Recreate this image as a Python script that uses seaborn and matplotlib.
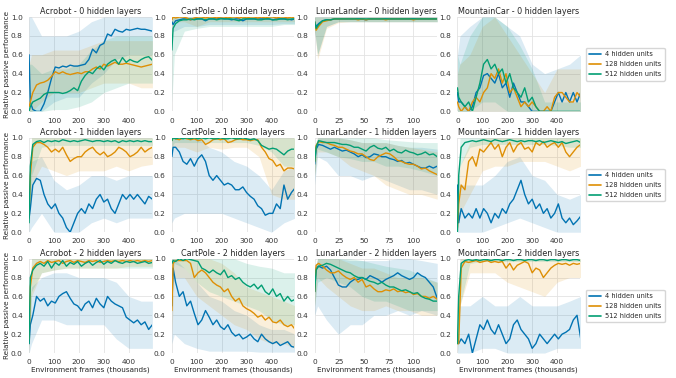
import numpy as np
import pandas as pd
import matplotlib
matplotlib.use("Agg")
import matplotlib.pyplot as plt
import seaborn as sns

# x positions (thousands of frames)
frames = [0, 5, 15, 30, 45, 60, 75, 90, 105, 120, 135, 150, 165, 180, 195, 210, 225, 240,
          255, 270, 285, 300, 315, 330, 345, 360, 375, 390, 405, 420, 435, 450, 465, 480, 495]
frames_ll = [0, 1.5, 4, 8, 12, 16, 20, 24, 28, 32, 36, 40, 44, 48, 52, 56, 60, 64, 68, 72,
             76, 80, 84, 88, 92, 96, 100, 104, 108, 112, 116, 120, 124]
band_x = [0, 10, 50, 100, 150, 200, 250, 300, 350, 400, 450, 495]
band_x_ll = [0, 3, 12, 24, 36, 48, 60, 72, 84, 96, 108, 124]

units = ["4 hidden units", "128 hidden units", "512 hidden units"]
envs = ["Acrobot", "CartPole", "LunarLander", "MountainCar"]
layers = [0, 1, 2]

# ---- Acrobot, 0 hidden layers
acro0_u4 = [0.6, 0.1, 0.02, 0.0, 0.0, 0.08, 0.2, 0.35, 0.47, 0.46, 0.48, 0.47, 0.49, 0.48, 0.48, 0.49, 0.5, 0.55,
            0.66, 0.62, 0.7, 0.72, 0.82, 0.8, 0.87, 0.85, 0.84, 0.87, 0.86, 0.87, 0.88, 0.87, 0.87, 0.86, 0.85]
acro0_u128 = [0.05, 0.1, 0.2, 0.28, 0.3, 0.31, 0.33, 0.37, 0.42, 0.4, 0.42, 0.4, 0.39, 0.4, 0.41, 0.4, 0.42, 0.42,
              0.45, 0.47, 0.45, 0.5, 0.48, 0.5, 0.52, 0.5, 0.5, 0.51, 0.5, 0.49, 0.48, 0.47, 0.48, 0.49, 0.5]
acro0_u512 = [0.0, 0.05, 0.1, 0.12, 0.14, 0.18, 0.2, 0.2, 0.2, 0.2, 0.19, 0.2, 0.22, 0.25, 0.22, 0.32, 0.38, 0.42,
              0.4, 0.45, 0.48, 0.44, 0.5, 0.53, 0.55, 0.5, 0.57, 0.52, 0.55, 0.53, 0.52, 0.55, 0.57, 0.58, 0.54]
acro0_u4_lo = [0, 0, 0, 0.1, 0.15, 0.15, 0.3, 0.4, 0.55, 0.6, 0.6, 0.6]
acro0_u4_hi = [1, 1, 0.8, 0.8, 0.8, 0.85, 0.95, 1, 1, 1, 1, 1]
acro0_u128_lo = [0, 0, 0.1, 0.2, 0.2, 0.2, 0.25, 0.3, 0.3, 0.3, 0.25, 0.25]
acro0_u128_hi = [0.5, 0.6, 0.6, 0.65, 0.65, 0.65, 0.7, 0.75, 0.75, 0.75, 0.75, 0.75]
acro0_u512_lo = [0, 0, 0, 0.02, 0.02, 0.05, 0.1, 0.2, 0.25, 0.3, 0.3, 0.3]
acro0_u512_hi = [0.5, 0.5, 0.4, 0.45, 0.45, 0.5, 0.65, 0.75, 0.8, 0.8, 0.8, 0.8]

# ---- CartPole, 0 hidden layers
cart0_u4 = [0.95, 0.92, 0.96, 0.97, 0.98, 0.98, 0.97, 0.98, 0.98, 0.98, 0.96, 0.98, 0.98, 0.98, 0.99, 0.98, 0.98, 0.97,
            0.98, 0.98, 0.96, 0.98, 0.98, 0.98, 0.98, 0.98, 0.98, 0.98, 0.97, 0.98, 0.98, 0.98, 0.98, 0.97, 0.98]
cart0_u128 = [0.97, 1.0, 0.99, 1.0, 1.0, 0.99, 0.97, 0.99, 1.0, 1.0, 0.99, 1.0, 1.0, 0.99, 1.0, 1.0, 0.99, 1.0,
              1.0, 0.99, 1.0, 0.99, 1.0, 1.0, 0.99, 1.0, 0.99, 1.0, 1.0, 0.99, 1.0, 1.0, 0.99, 1.0, 0.99]
cart0_u512 = [0.65, 0.88, 0.93, 0.96, 0.97, 0.97, 0.98, 0.97, 0.98, 0.98, 0.97, 0.98, 0.98, 0.97, 0.98, 0.98, 0.98, 0.98,
              0.97, 0.96, 0.98, 0.98, 0.98, 0.98, 0.97, 0.97, 0.98, 0.98, 0.97, 0.97, 0.98, 0.98, 0.97, 0.98, 0.98]
cart0_u4_lo = [0.85, 0.85, 0.9, 0.9, 0.92, 0.92, 0.92, 0.92, 0.92, 0.92, 0.93, 0.93]
cart0_u4_hi = [1, 1, 1, 1, 1, 1, 1, 1, 1, 1, 1, 1]
cart0_u128_lo = [0.8, 0.95, 0.95, 0.9, 0.95, 0.95, 0.95, 0.95, 0.95, 0.95, 0.95, 0.95]
cart0_u128_hi = [1, 1, 1, 1, 1, 1, 1, 1, 1, 1, 1, 1]
cart0_u512_lo = [0.1, 0.6, 0.85, 0.88, 0.9, 0.9, 0.9, 0.9, 0.9, 0.9, 0.92, 0.92]
cart0_u512_hi = [1, 1, 1, 1, 1, 1, 1, 1, 1, 1, 1, 1]

# ---- LunarLander, 0 hidden layers
lunar0_u4 = [0.95, 0.9, 0.93, 0.96, 0.97, 0.97, 0.98, 0.98, 0.98, 0.98, 0.98, 0.98, 0.98, 0.98, 0.97, 0.98, 0.98,
             0.98, 0.98, 0.98, 0.98, 0.98, 0.98, 0.98, 0.98, 0.98, 0.98, 0.98, 0.98, 0.98, 0.98, 0.98, 0.98]
lunar0_u128 = [0.95, 0.86, 0.9, 0.95, 0.96, 0.97, 0.98, 0.98, 0.98, 0.98, 0.98, 0.98, 0.97, 0.98, 0.97, 0.98, 0.98,
               0.98, 0.98, 0.97, 0.98, 0.98, 0.98, 0.98, 0.98, 0.98, 0.97, 0.98, 0.98, 0.98, 0.98, 0.98, 0.98]
lunar0_u512 = [0.95, 0.88, 0.92, 0.96, 0.97, 0.97, 0.98, 0.98, 0.98, 0.98, 0.98, 0.98, 0.98, 0.98, 0.98, 0.98, 0.98,
               0.98, 0.98, 0.98, 0.98, 0.98, 0.98, 0.98, 0.98, 0.98, 0.98, 0.98, 0.98, 0.98, 0.98, 0.98, 0.98]
lunar0_u4_lo = [0.85, 0.6, 0.9, 0.95, 0.95, 0.95, 0.95, 0.95, 0.95, 0.95, 0.95, 0.95]
lunar0_u4_hi = [1, 1, 1, 1, 1, 1, 1, 1, 1, 1, 1, 1]
lunar0_u128_lo = [0.85, 0.55, 0.88, 0.94, 0.95, 0.95, 0.95, 0.95, 0.95, 0.95, 0.95, 0.95]
lunar0_u128_hi = [1, 1, 1, 1, 1, 1, 1, 1, 1, 1, 1, 1]
lunar0_u512_lo = [0.85, 0.6, 0.9, 0.95, 0.95, 0.95, 0.95, 0.95, 0.95, 0.95, 0.95, 0.95]
lunar0_u512_hi = [1, 1, 1, 1, 1, 1, 1, 1, 1, 1, 1, 1]

# ---- MountainCar, 0 hidden layers
mount0_u4 = [0.2, 0.1, 0.1, 0.05, 0.0, 0.05, 0.2, 0.25, 0.38, 0.4, 0.35, 0.3, 0.4, 0.25, 0.3, 0.15, 0.3, 0.2,
             0.1, 0.1, 0.05, 0.0, 0.0, 0.0, 0.0, 0.0, 0.0, 0.1, 0.2, 0.1, 0.2, 0.1, 0.2, 0.1, 0.2]
mount0_u128 = [0.1, 0.05, 0.0, 0.05, 0.0, 0.1, 0.15, 0.1, 0.2, 0.25, 0.4, 0.35, 0.45, 0.3, 0.4, 0.2, 0.25, 0.15,
               0.05, 0.1, 0.05, 0.1, 0.05, 0.0, 0.0, 0.05, 0.0, 0.15, 0.2, 0.2, 0.15, 0.1, 0.1, 0.2, 0.15]
mount0_u512 = [0.25, 0.15, 0.1, 0.05, 0.1, 0.0, 0.15, 0.3, 0.5, 0.55, 0.45, 0.5, 0.4, 0.45, 0.3, 0.4, 0.25, 0.2,
               0.15, 0.25, 0.1, 0.15, 0.05, 0.0, 0.0, 0.0, 0.0, 0.0, 0.0, 0.0, 0.0, 0.0, 0.0, 0.0, 0.0]
mount0_u4_lo = [0, 0, 0, 0, 0, 0, 0, 0, 0, 0, 0, 0]
mount0_u4_hi = [0.6, 0.8, 0.9, 1, 1, 0.9, 0.8, 0.5, 0.4, 0.45, 0.5, 0.6]
mount0_u128_lo = [0, 0, 0, 0, 0, 0, 0, 0, 0, 0, 0, 0]
mount0_u128_hi = [0.4, 0.5, 0.6, 0.9, 1, 0.8, 0.6, 0.4, 0.2, 0.45, 0.45, 0.45]
mount0_u512_lo = [0, 0, 0, 0.1, 0.1, 0, 0, 0, 0, 0, 0, 0]
mount0_u512_hi = [0.6, 0.5, 0.8, 1, 1, 0.9, 0.7, 0.45, 0.1, 0.1, 0.1, 0.1]

# ---- Acrobot, 1 hidden layer
acro1_u4 = [0.15, 0.25, 0.5, 0.57, 0.55, 0.4, 0.3, 0.25, 0.3, 0.2, 0.15, 0.05, 0.0, 0.1, 0.2, 0.25, 0.2, 0.3,
            0.25, 0.35, 0.4, 0.32, 0.35, 0.25, 0.2, 0.3, 0.4, 0.35, 0.4, 0.35, 0.4, 0.35, 0.3, 0.38, 0.35]
acro1_u128 = [0.2, 0.6, 0.9, 0.95, 0.95, 0.93, 0.9, 0.85, 0.88, 0.85, 0.9, 0.82, 0.75, 0.78, 0.8, 0.8, 0.85, 0.88,
              0.9, 0.85, 0.82, 0.85, 0.8, 0.82, 0.85, 0.9, 0.88, 0.85, 0.8, 0.82, 0.85, 0.9, 0.85, 0.88, 0.9]
acro1_u512 = [0.1, 0.7, 0.93, 0.96, 0.97, 0.95, 0.97, 0.96, 0.97, 0.96, 0.98, 0.97, 0.96, 0.97, 0.96, 0.97, 0.98, 0.97,
              0.96, 0.97, 0.97, 0.96, 0.97, 0.96, 0.97, 0.95, 0.97, 0.96, 0.97, 0.96, 0.97, 0.96, 0.97, 0.96, 0.96]
acro1_u4_lo = [0, 0.05, 0.2, 0, 0, 0, 0.1, 0.15, 0.1, 0.15, 0.15, 0.15]
acro1_u4_hi = [0.5, 0.75, 0.8, 0.55, 0.45, 0.5, 0.6, 0.6, 0.55, 0.6, 0.6, 0.6]
acro1_u128_lo = [0.1, 0.5, 0.7, 0.65, 0.6, 0.65, 0.65, 0.65, 0.7, 0.65, 0.7, 0.72]
acro1_u128_hi = [0.4, 1, 1, 1, 1, 1, 1, 1, 1, 1, 1, 1]
acro1_u512_lo = [0, 0.6, 0.9, 0.92, 0.92, 0.92, 0.92, 0.92, 0.92, 0.92, 0.92, 0.92]
acro1_u512_hi = [0.4, 1, 1, 1, 1, 1, 1, 1, 1, 1, 1, 1]

# ---- CartPole, 1 hidden layer
cart1_u4 = [0.8, 0.9, 0.9, 0.85, 0.75, 0.72, 0.78, 0.7, 0.78, 0.82, 0.75, 0.6, 0.55, 0.6, 0.55, 0.5, 0.52, 0.5,
            0.45, 0.45, 0.48, 0.42, 0.38, 0.35, 0.28, 0.25, 0.18, 0.2, 0.2, 0.3, 0.25, 0.5, 0.35, 0.42, 0.47]
cart1_u128 = [0.97, 1.0, 0.99, 0.98, 1.0, 0.99, 0.98, 0.99, 0.97, 0.98, 0.93, 0.95, 0.98, 0.99, 0.98, 0.99, 0.95, 0.96,
              0.98, 0.99, 0.98, 0.98, 0.97, 0.98, 0.98, 0.9, 0.85, 0.78, 0.76, 0.7, 0.72, 0.65, 0.68, 0.68, 0.67]
cart1_u512 = [0.97, 1.0, 0.99, 1.0, 0.99, 1.0, 0.99, 1.0, 0.99, 1.0, 0.99, 1.0, 0.99, 0.99, 1.0, 0.99, 0.99, 1.0,
              0.99, 0.99, 1.0, 0.99, 0.98, 0.99, 0.97, 0.92, 0.9, 0.88, 0.89, 0.88, 0.85, 0.82, 0.86, 0.88, 0.88]
cart1_u4_lo = [0.1, 0.15, 0.2, 0.2, 0.2, 0.2, 0.15, 0.1, 0.05, 0.0, 0.1, 0.15]
cart1_u4_hi = [1, 1, 1, 1, 0.9, 0.85, 0.75, 0.7, 0.6, 0.45, 0.65, 0.7]
cart1_u128_lo = [0.85, 0.9, 0.9, 0.85, 0.9, 0.88, 0.9, 0.9, 0.8, 0.4, 0.35, 0.35]
cart1_u128_hi = [1, 1, 1, 1, 1, 1, 1, 1, 1, 1, 1, 1]
cart1_u512_lo = [0.9, 0.95, 0.95, 0.95, 0.95, 0.95, 0.95, 0.95, 0.92, 0.85, 0.7, 0.7]
cart1_u512_hi = [1, 1, 1, 1, 1, 1, 1, 1, 1, 1, 1, 1]

# ---- LunarLander, 1 hidden layer
lunar1_u4 = [0.72, 0.88, 0.93, 0.92, 0.9, 0.88, 0.9, 0.88, 0.86, 0.87, 0.85, 0.83, 0.8, 0.82, 0.79, 0.8, 0.83,
             0.82, 0.8, 0.8, 0.78, 0.77, 0.75, 0.76, 0.73, 0.74, 0.72, 0.7, 0.68, 0.68, 0.7, 0.68, 0.7]
lunar1_u128 = [0.75, 0.92, 0.96, 0.95, 0.95, 0.93, 0.92, 0.9, 0.9, 0.88, 0.86, 0.85, 0.83, 0.83, 0.8, 0.77, 0.76,
               0.8, 0.82, 0.84, 0.83, 0.8, 0.76, 0.75, 0.73, 0.72, 0.72, 0.7, 0.67, 0.68, 0.65, 0.63, 0.61]
lunar1_u512 = [0.75, 0.9, 0.97, 0.96, 0.95, 0.95, 0.95, 0.94, 0.93, 0.93, 0.92, 0.9, 0.9, 0.88, 0.86, 0.9, 0.92,
               0.89, 0.88, 0.9, 0.86, 0.88, 0.85, 0.84, 0.87, 0.85, 0.84, 0.82, 0.83, 0.85, 0.82, 0.83, 0.8]
lunar1_u4_lo = [0.5, 0.8, 0.75, 0.6, 0.6, 0.55, 0.6, 0.55, 0.5, 0.45, 0.45, 0.4]
lunar1_u4_hi = [0.9, 1, 1, 1, 0.98, 0.95, 0.95, 0.95, 0.92, 0.9, 0.9, 0.88]
lunar1_u128_lo = [0.6, 0.85, 0.85, 0.8, 0.7, 0.65, 0.6, 0.5, 0.45, 0.4, 0.4, 0.35]
lunar1_u128_hi = [0.9, 1, 1, 1, 0.98, 0.95, 0.95, 0.95, 0.92, 0.9, 0.88, 0.85]
lunar1_u512_lo = [0.6, 0.88, 0.85, 0.8, 0.78, 0.75, 0.75, 0.7, 0.7, 0.68, 0.65, 0.6]
lunar1_u512_hi = [0.9, 1, 1, 1, 1, 1, 1, 0.98, 0.97, 0.96, 0.95, 0.95]

# ---- MountainCar, 1 hidden layer
mount1_u4 = [0.5, 0.1, 0.25, 0.15, 0.2, 0.15, 0.25, 0.15, 0.25, 0.2, 0.1, 0.2, 0.15, 0.25, 0.2, 0.3, 0.35, 0.45,
             0.55, 0.4, 0.3, 0.35, 0.25, 0.3, 0.2, 0.25, 0.15, 0.2, 0.3, 0.15, 0.1, 0.15, 0.08, 0.12, 0.17]
mount1_u128 = [0.05, 0.3, 0.5, 0.45, 0.75, 0.8, 0.7, 0.88, 0.85, 0.9, 0.95, 0.88, 0.93, 0.8, 0.9, 0.95, 0.85, 0.92,
               0.95, 0.88, 0.9, 0.85, 0.95, 0.92, 0.96, 0.9, 0.93, 0.95, 0.9, 0.95, 0.85, 0.8, 0.85, 0.9, 0.93]
mount1_u512 = [0.0, 0.6, 0.9, 0.95, 0.96, 0.97, 0.96, 0.97, 0.98, 0.97, 0.96, 0.98, 0.97, 0.96, 0.97, 0.98, 0.97, 0.96,
               0.97, 0.96, 0.97, 0.97, 0.96, 0.97, 0.95, 0.96, 0.97, 0.96, 0.95, 0.96, 0.94, 0.95, 0.96, 0.97, 0.95]
mount1_u4_lo = [0, 0, 0, 0, 0.05, 0.1, 0.15, 0.1, 0.05, 0.0, 0.0, 0.0]
mount1_u4_hi = [0.7, 0.5, 0.5, 0.5, 0.6, 0.75, 0.8, 0.6, 0.55, 0.4, 0.35, 0.4]
mount1_u128_lo = [0, 0.2, 0.4, 0.65, 0.7, 0.7, 0.75, 0.75, 0.75, 0.7, 0.65, 0.7]
mount1_u128_hi = [0.2, 0.7, 0.95, 1, 1, 1, 1, 1, 1, 1, 1, 1]
mount1_u512_lo = [0, 0.7, 0.9, 0.93, 0.93, 0.93, 0.93, 0.93, 0.93, 0.92, 0.9, 0.9]
mount1_u512_hi = [0.2, 1, 1, 1, 1, 1, 1, 1, 1, 1, 1, 1]

# ---- Acrobot, 2 hidden layers
acro2_u4 = [0.1, 0.3, 0.4, 0.6, 0.55, 0.58, 0.5, 0.55, 0.53, 0.6, 0.63, 0.65, 0.58, 0.52, 0.5, 0.45, 0.52, 0.55,
            0.48, 0.58, 0.52, 0.48, 0.6, 0.55, 0.52, 0.5, 0.48, 0.38, 0.35, 0.32, 0.35, 0.3, 0.33, 0.25, 0.3]
acro2_u128 = [0.15, 0.7, 0.9, 0.95, 0.97, 0.95, 0.98, 0.96, 0.97, 0.98, 0.95, 0.97, 0.98, 0.96, 0.98, 0.97, 0.96, 0.98,
              0.97, 0.98, 0.96, 0.97, 0.98, 0.97, 0.98, 0.97, 0.98, 0.97, 0.98, 0.97, 0.98, 0.97, 0.98, 0.97, 0.98]
acro2_u512 = [0.1, 0.8, 0.88, 0.93, 0.95, 0.92, 0.97, 0.9, 0.96, 0.93, 0.98, 0.92, 0.96, 0.94, 0.97, 0.92, 0.95, 0.97,
              0.93, 0.96, 0.98, 0.94, 0.97, 0.95, 0.98, 0.96, 0.95, 0.97, 0.96, 0.97, 0.95, 0.96, 0.97, 0.95, 0.96]
acro2_u4_lo = [0, 0.1, 0.35, 0.35, 0.3, 0.3, 0.3, 0.3, 0.15, 0.05, 0.05, 0.05]
acro2_u4_hi = [0.4, 0.7, 0.8, 0.85, 0.85, 0.8, 0.8, 0.8, 0.75, 0.6, 0.55, 0.55]
acro2_u128_lo = [0, 0.6, 0.85, 0.88, 0.9, 0.9, 0.9, 0.9, 0.9, 0.92, 0.92, 0.92]
acro2_u128_hi = [0.4, 1, 1, 1, 1, 1, 1, 1, 1, 1, 1, 1]
acro2_u512_lo = [0, 0.65, 0.85, 0.88, 0.9, 0.9, 0.9, 0.9, 0.9, 0.9, 0.9, 0.9]
acro2_u512_hi = [0.4, 1, 1, 1, 1, 1, 1, 1, 1, 1, 1, 1]

# ---- CartPole, 2 hidden layers
cart2_u4 = [0.5, 0.9, 0.75, 0.6, 0.65, 0.5, 0.55, 0.42, 0.3, 0.35, 0.45, 0.38, 0.3, 0.35, 0.28, 0.25, 0.3, 0.22,
            0.18, 0.2, 0.15, 0.17, 0.2, 0.15, 0.12, 0.2, 0.15, 0.12, 0.1, 0.12, 0.08, 0.1, 0.12, 0.07, 0.06]
cart2_u128 = [0.45, 0.95, 0.98, 0.98, 0.98, 0.98, 0.95, 0.8, 0.85, 0.88, 0.85, 0.8, 0.75, 0.72, 0.7, 0.65, 0.68, 0.6,
              0.55, 0.58, 0.5, 0.47, 0.45, 0.42, 0.38, 0.4, 0.35, 0.38, 0.33, 0.32, 0.35, 0.3, 0.28, 0.3, 0.25]
cart2_u512 = [0.95, 0.98, 0.97, 1.0, 0.98, 1.0, 0.99, 0.98, 0.97, 0.9, 0.88, 0.85, 0.88, 0.85, 0.83, 0.88, 0.8, 0.82,
              0.78, 0.8, 0.75, 0.72, 0.7, 0.73, 0.68, 0.72, 0.65, 0.62, 0.68, 0.6, 0.63, 0.55, 0.6, 0.55, 0.57]
cart2_u4_lo = [0.1, 0.2, 0.1, 0.05, 0.02, 0.02, 0.02, 0.02, 0.01, 0.01, 0.01, 0.01]
cart2_u4_hi = [1, 1, 0.9, 0.75, 0.6, 0.55, 0.45, 0.4, 0.3, 0.25, 0.25, 0.2]
cart2_u128_lo = [0.2, 0.8, 0.8, 0.6, 0.5, 0.4, 0.3, 0.25, 0.15, 0.1, 0.1, 0.05]
cart2_u128_hi = [1, 1, 1, 1, 1, 0.95, 0.85, 0.7, 0.65, 0.6, 0.55, 0.5]
cart2_u512_lo = [0.8, 0.95, 0.9, 0.75, 0.65, 0.6, 0.55, 0.5, 0.45, 0.35, 0.3, 0.3]
cart2_u512_hi = [1, 1, 1, 1, 1, 1, 1, 0.95, 0.92, 0.9, 0.85, 0.85]

# ---- LunarLander, 2 hidden layers
lunar2_u4 = [0.65, 0.9, 0.92, 0.9, 0.92, 0.88, 0.8, 0.72, 0.7, 0.7, 0.75, 0.78, 0.78, 0.8, 0.78, 0.82, 0.8,
             0.78, 0.75, 0.78, 0.8, 0.82, 0.85, 0.82, 0.8, 0.78, 0.8, 0.85, 0.82, 0.8, 0.75, 0.7, 0.58]
lunar2_u128 = [0.65, 0.93, 0.95, 0.92, 0.88, 0.85, 0.85, 0.87, 0.83, 0.8, 0.78, 0.8, 0.75, 0.78, 0.7, 0.72, 0.68,
               0.65, 0.65, 0.67, 0.66, 0.68, 0.65, 0.66, 0.64, 0.65, 0.62, 0.63, 0.6, 0.6, 0.58, 0.6, 0.57]
lunar2_u512 = [0.65, 0.88, 0.92, 0.93, 0.95, 0.94, 0.92, 0.9, 0.88, 0.86, 0.85, 0.82, 0.8, 0.8, 0.78, 0.76, 0.75,
               0.73, 0.75, 0.72, 0.7, 0.7, 0.68, 0.66, 0.67, 0.65, 0.63, 0.64, 0.6, 0.58, 0.57, 0.55, 0.55]
lunar2_u4_lo = [0.4, 0.5, 0.35, 0.2, 0.3, 0.3, 0.4, 0.4, 0.45, 0.4, 0.45, 0.4]
lunar2_u4_hi = [0.9, 1, 1, 1, 0.98, 0.98, 0.98, 0.98, 1, 1, 0.98, 0.95]
lunar2_u128_lo = [0.5, 0.8, 0.7, 0.6, 0.5, 0.45, 0.45, 0.5, 0.45, 0.45, 0.4, 0.4]
lunar2_u128_hi = [0.85, 1, 1, 1, 0.95, 0.9, 0.9, 0.85, 0.8, 0.8, 0.8, 0.75]
lunar2_u512_lo = [0.5, 0.75, 0.8, 0.75, 0.7, 0.6, 0.55, 0.55, 0.5, 0.45, 0.45, 0.45]
lunar2_u512_hi = [0.85, 1, 1, 1, 1, 0.98, 0.95, 0.92, 0.9, 0.88, 0.82, 0.75]

# ---- MountainCar, 2 hidden layers
mount2_u4 = [0.2, 0.1, 0.15, 0.1, 0.2, 0.0, 0.15, 0.3, 0.25, 0.35, 0.25, 0.2, 0.3, 0.2, 0.1, 0.15, 0.3, 0.35,
             0.25, 0.2, 0.15, 0.05, 0.1, 0.2, 0.15, 0.1, 0.15, 0.2, 0.15, 0.2, 0.22, 0.25, 0.35, 0.4, 0.15]
mount2_u128 = [0.1, 0.1, 0.9, 0.97, 0.96, 0.97, 0.98, 0.96, 0.97, 0.98, 0.96, 0.97, 0.96, 0.97, 0.9, 0.95, 0.88, 0.93,
               0.95, 0.97, 0.95, 0.85, 0.9, 0.88, 0.8, 0.85, 0.9, 0.93, 0.95, 0.94, 0.95, 0.93, 0.95, 0.94, 0.95]
mount2_u512 = [0.1, 0.6, 0.95, 0.98, 0.99, 0.98, 0.99, 0.98, 0.99, 0.99, 0.98, 0.99, 0.99, 0.98, 0.99, 0.99, 0.98, 0.99,
               0.99, 0.98, 0.99, 0.99, 0.98, 0.99, 0.99, 0.98, 0.99, 0.99, 0.98, 0.99, 0.99, 0.98, 0.99, 0.99, 0.98]
mount2_u4_lo = [0, 0, 0, 0.05, 0.05, 0, 0, 0, 0, 0.05, 0.05, 0.05]
mount2_u4_hi = [0.5, 0.5, 0.5, 0.6, 0.5, 0.5, 0.6, 0.5, 0.5, 0.5, 0.55, 0.6]
mount2_u128_lo = [0, 0.5, 0.85, 0.85, 0.85, 0.75, 0.7, 0.65, 0.6, 0.75, 0.8, 0.8]
mount2_u128_hi = [0.3, 1, 1, 1, 1, 1, 1, 1, 1, 1, 1, 1]
mount2_u512_lo = [0, 0.5, 0.95, 0.97, 0.97, 0.97, 0.97, 0.97, 0.97, 0.97, 0.97, 0.97]
mount2_u512_hi = [0.3, 1, 1, 1, 1, 1, 1, 1, 1, 1, 1, 1]

means = {
    ("Acrobot", 0): [acro0_u4, acro0_u128, acro0_u512],
    ("CartPole", 0): [cart0_u4, cart0_u128, cart0_u512],
    ("LunarLander", 0): [lunar0_u4, lunar0_u128, lunar0_u512],
    ("MountainCar", 0): [mount0_u4, mount0_u128, mount0_u512],
    ("Acrobot", 1): [acro1_u4, acro1_u128, acro1_u512],
    ("CartPole", 1): [cart1_u4, cart1_u128, cart1_u512],
    ("LunarLander", 1): [lunar1_u4, lunar1_u128, lunar1_u512],
    ("MountainCar", 1): [mount1_u4, mount1_u128, mount1_u512],
    ("Acrobot", 2): [acro2_u4, acro2_u128, acro2_u512],
    ("CartPole", 2): [cart2_u4, cart2_u128, cart2_u512],
    ("LunarLander", 2): [lunar2_u4, lunar2_u128, lunar2_u512],
    ("MountainCar", 2): [mount2_u4, mount2_u128, mount2_u512],
}
bands = {
    ("Acrobot", 0): [(acro0_u4_lo, acro0_u4_hi), (acro0_u128_lo, acro0_u128_hi), (acro0_u512_lo, acro0_u512_hi)],
    ("CartPole", 0): [(cart0_u4_lo, cart0_u4_hi), (cart0_u128_lo, cart0_u128_hi), (cart0_u512_lo, cart0_u512_hi)],
    ("LunarLander", 0): [(lunar0_u4_lo, lunar0_u4_hi), (lunar0_u128_lo, lunar0_u128_hi), (lunar0_u512_lo, lunar0_u512_hi)],
    ("MountainCar", 0): [(mount0_u4_lo, mount0_u4_hi), (mount0_u128_lo, mount0_u128_hi), (mount0_u512_lo, mount0_u512_hi)],
    ("Acrobot", 1): [(acro1_u4_lo, acro1_u4_hi), (acro1_u128_lo, acro1_u128_hi), (acro1_u512_lo, acro1_u512_hi)],
    ("CartPole", 1): [(cart1_u4_lo, cart1_u4_hi), (cart1_u128_lo, cart1_u128_hi), (cart1_u512_lo, cart1_u512_hi)],
    ("LunarLander", 1): [(lunar1_u4_lo, lunar1_u4_hi), (lunar1_u128_lo, lunar1_u128_hi), (lunar1_u512_lo, lunar1_u512_hi)],
    ("MountainCar", 1): [(mount1_u4_lo, mount1_u4_hi), (mount1_u128_lo, mount1_u128_hi), (mount1_u512_lo, mount1_u512_hi)],
    ("Acrobot", 2): [(acro2_u4_lo, acro2_u4_hi), (acro2_u128_lo, acro2_u128_hi), (acro2_u512_lo, acro2_u512_hi)],
    ("CartPole", 2): [(cart2_u4_lo, cart2_u4_hi), (cart2_u128_lo, cart2_u128_hi), (cart2_u512_lo, cart2_u512_hi)],
    ("LunarLander", 2): [(lunar2_u4_lo, lunar2_u4_hi), (lunar2_u128_lo, lunar2_u128_hi), (lunar2_u512_lo, lunar2_u512_hi)],
    ("MountainCar", 2): [(mount2_u4_lo, mount2_u4_hi), (mount2_u128_lo, mount2_u128_hi), (mount2_u512_lo, mount2_u512_hi)],
}

sns.set_style("whitegrid")
plt.rcParams['font.family'] = ['DejaVu Sans']
pal = sns.color_palette("colorblind", 3)

fig, axes = plt.subplots(3, 4, figsize=(6.76, 3.78), dpi=100)
fig.subplots_adjust(left=0.043, right=0.858, top=0.955, bottom=0.066, wspace=0.165, hspace=0.28)

for r, nl in enumerate(layers):
    for c, env in enumerate(envs):
        ax = axes[r, c]
        xs = frames_ll if env == "LunarLander" else frames
        bx = band_x_ll if env == "LunarLander" else band_x
        rows = []
        for u, ys in zip(units, means[(env, nl)]):
            rows += [{"frame": x, "perf": y, "units": u} for x, y in zip(xs, ys)]
        df = pd.DataFrame(rows)
        for k, (lo, hi) in enumerate(bands[(env, nl)]):
            ax.fill_between(bx, lo, hi, color=pal[k], alpha=0.14, lw=0)
        sns.lineplot(data=df, x="frame", y="perf", hue="units", hue_order=units,
                     palette=pal, lw=1.0, ax=ax, legend=(c == 3))
        ax.set_ylim(0, 1)
        ax.set_xlim(0, 124 if env == "LunarLander" else 492)
        if env == "LunarLander":
            ax.set_xticks([0, 25, 50, 75, 100])
        else:
            ax.set_xticks([0, 100, 200, 300, 400])
        ax.set_yticks([0, 0.2, 0.4, 0.6, 0.8, 1.0])
        ax.tick_params(labelsize=5.3, pad=1, colors="#333333")
        ax.set_title(f"{env} - {nl} hidden layers", fontsize=5.8, pad=2)
        for s in ax.spines.values():
            s.set_visible(False)
        ax.grid(color="#e3e3e3", lw=0.6)
        ax.set_xlabel("Environment frames (thousands)" if r == 2 else "", fontsize=5.2, labelpad=1)
        ax.set_ylabel("Relative passive performance" if c == 0 else "", fontsize=5.2, labelpad=1)
        if c == 3:
            h, l = ax.get_legend_handles_labels()
            leg = ax.legend(h, l, loc="center left", bbox_to_anchor=(1.02, 0.5), fontsize=4.8,
                            frameon=True, handlelength=1.8, handletextpad=0.6,
                            borderpad=0.5, labelspacing=0.6)
            for ln in leg.get_lines():
                ln.set_linewidth(1.2)

fig.savefig("out.png", dpi=100)
